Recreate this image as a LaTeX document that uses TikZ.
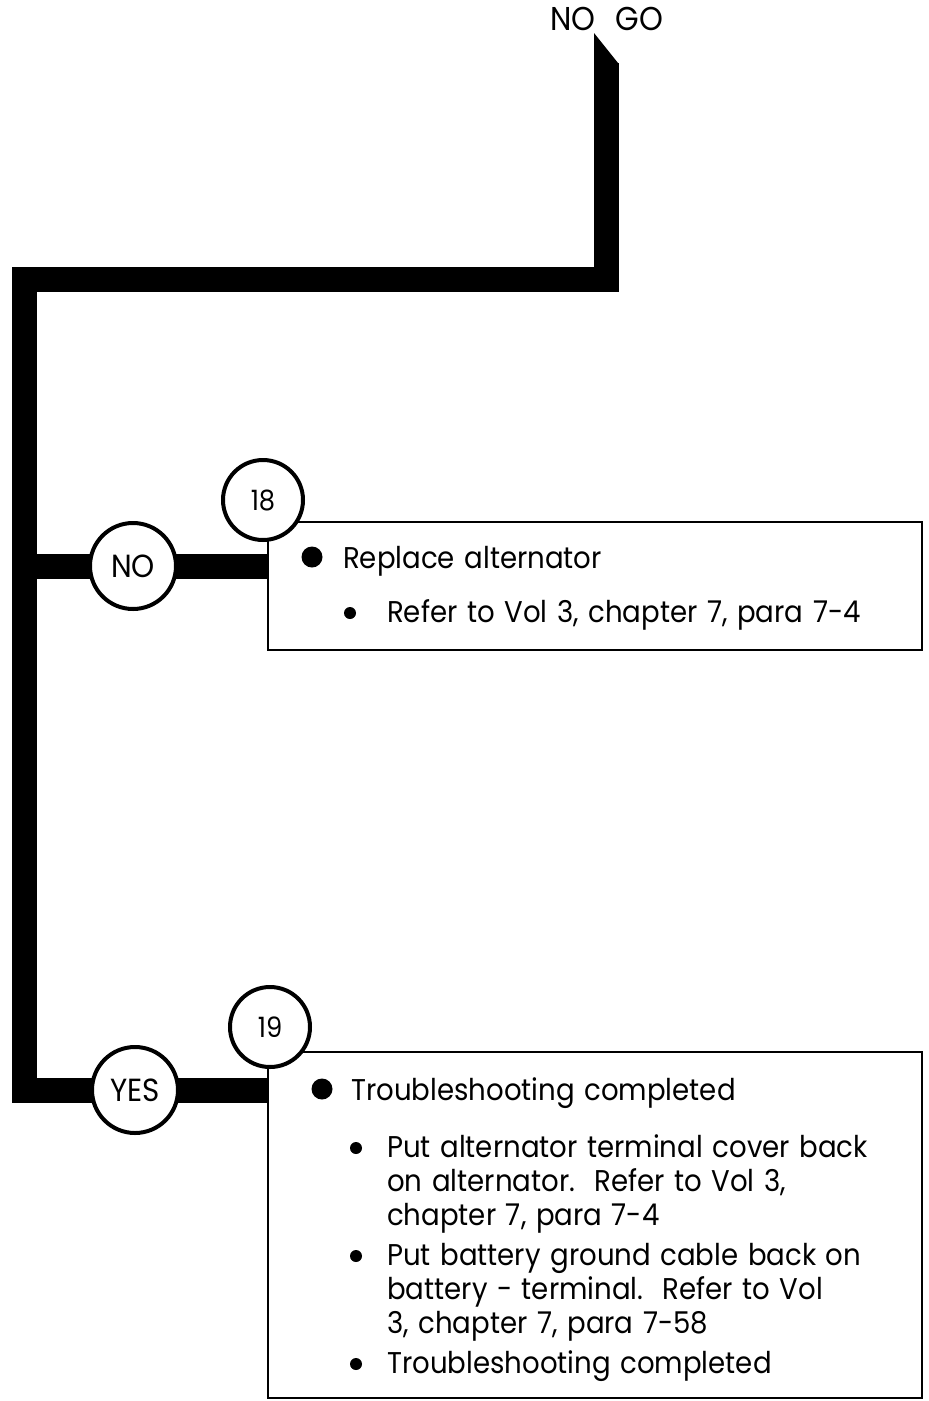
\documentclass[tikz,border=0pt]{standalone}
\usepackage{fontspec}
\setmainfont{Poppins}[FakeStretch=0.92,WordSpace=1.3]
\begin{document}
\begin{tikzpicture}[x=1pt,y=-1pt,
  bus/.style={line width=25pt, line join=miter},
  circ/.style={circle, draw, line width=4pt, fill=white, minimum size=80pt, inner sep=0pt, font=\fontsize{28}{28}\selectfont},
  bigcirc/.style={circ, minimum size=86pt, font=\fontsize{32}{32}\selectfont},
  txt/.style={anchor=base west, inner sep=0pt, font=\fontsize{30}{30}\selectfont},
  box/.style={draw, line width=2.2pt},
  dotbig/.style={fill, circle, inner sep=0pt, minimum size=21pt},
  dotsmall/.style={fill, circle, inner sep=0pt, minimum size=12pt},
]
\useasboundingbox (0,0) rectangle (929,1401);
% boxes
\draw[box] (268,522) rectangle (922,650);
\draw[box] (268,1052) -- (922,1052) -- (922,1399);
\draw[box] (268,1052) -- (268,1399);
\draw[line width=1.2pt] (268,1398) -- (922,1398);
\coordinate (b1w) at (268,566);
\coordinate (b2w) at (268,1090);
\coordinate (top) at (606,63);
\coordinate (c1) at (606,279);
\coordinate (c2) at (24,279);
\coordinate (c3) at (24,1090);
\coordinate (nj) at (24,566);
\fill (594,33) -- (618,63) -- (594,64) -- cycle;
\draw[bus] (top) -- (c1) -- (c2) -- (c3) -- (b2w);
\draw[bus] (nj) -- (b1w);
\node[bigcirc] (no) at (133,566) {NO};
\node[bigcirc] (yes) at (135,1090) {YES};
\node[circ] (n18) at (263,500) {18};
\node[circ] (n19) at (270,1027) {19};
\node[txt, font=\fontsize{33}{33}\selectfont] (nogo) at (550,30) {NO\hspace{20pt}GO};
\node[txt] (t1) at (343,568) {Replace alternator};
\node[txt] (t2) at (387,622) {Refer to Vol 3, chapter 7, para 7-4};
\node[txt] (t3) at (351,1100) {Troubleshooting completed};
\node[txt] (t4) at (387,1157) {Put alternator terminal cover back};
\node[txt] (t5) at (387,1191) {on alternator.\ \ Refer to Vol 3,};
\node[txt] (t6) at (387,1225) {chapter 7, para 7-4};
\node[txt] (t7) at (387,1265) {Put battery ground cable back on};
\node[txt] (t8) at (387,1299) {battery - terminal.\ \ Refer to Vol};
\node[txt] (t9) at (387,1333) {3, chapter 7, para 7-58};
\node[txt] (t10) at (387,1373) {Troubleshooting completed};
\node[dotbig] (d1) at (312,557) {};
\node[dotbig] (d2) at (322,1089) {};
\node[dotsmall] (d3) at (350,613) {};
\node[dotsmall] (d4) at (356,1148) {};
\node[dotsmall] (d5) at (356,1256) {};
\node[dotsmall] (d6) at (356,1364) {};
\end{tikzpicture}
\end{document}
